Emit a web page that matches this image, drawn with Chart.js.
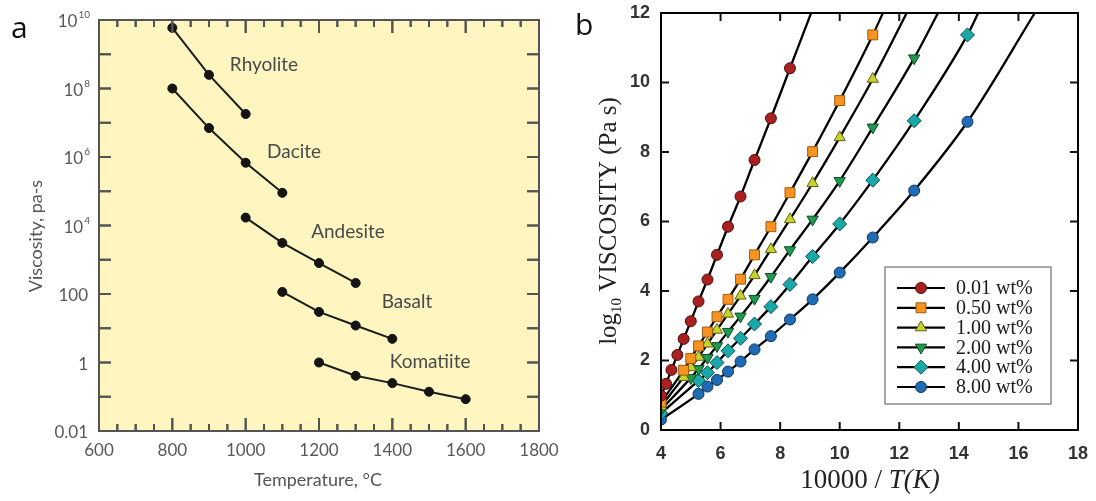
<!DOCTYPE html>
<html>
<head>
<meta charset="utf-8">
<script src="https://cdn.jsdelivr.net/npm/chart.js@4.4.0/dist/chart.umd.min.js"></script>
<style>
  html, body { margin: 0; padding: 0; background: #fff; width: 1096px; height: 501px; overflow: hidden; }
  #wrapA { position: absolute; left: 0; top: 0; width: 560px; height: 501px; }
  #wrapB { position: absolute; left: 560px; top: 0; width: 536px; height: 501px; }
</style>
</head>
<body>
<div id="wrapA"><canvas id="chartA" width="560" height="501"></canvas></div>
<div id="wrapB"><canvas id="chartB" width="536" height="501"></canvas></div>
<script>
// ---------------- Panel a: magma viscosity (Pa s) against temperature (°C) ----------------
const rockNames = ['Rhyolite', 'Dacite', 'Andesite', 'Basalt', 'Komatiite'];
const rhyoliteTemp = [800, 900, 1000];
const rhyoliteVisc = [5.9e9, 2.5e8, 1.8e7];
const daciteTemp = [800, 900, 1000, 1100];
const daciteVisc = [1.0e8, 7.0e6, 6.8e5, 9.0e4];
const andesiteTemp = [1000, 1100, 1200, 1300];
const andesiteVisc = [1.7e4, 3.1e3, 8.0e2, 2.1e2];
const basaltTemp = [1100, 1200, 1300, 1400];
const basaltVisc = [115, 30, 12, 4.9];
const komatiiteTemp = [1200, 1300, 1400, 1500, 1600];
const komatiiteVisc = [1.0, 0.41, 0.25, 0.14, 0.085];
const tempTicks = [600, 800, 1000, 1200, 1400, 1600, 1800];
const viscTicks = [1e10, 1e8, 1e6, 1e4, 100, 1, 0.01];

// ---------------- Panel b: log10 viscosity against 10000/T for several water contents ----------------
const waterLabels = ['0.01 wt%', '0.50 wt%', '1.00 wt%', '2.00 wt%', '4.00 wt%', '8.00 wt%'];
const invT_001 = [4.00, 4.17, 4.35, 4.55, 4.76, 5.00, 5.26, 5.56, 5.88, 6.25, 6.67, 7.14, 7.69, 8.33];
const logEta_001 = [0.99, 1.33, 1.73, 2.16, 2.62, 3.13, 3.70, 4.33, 5.04, 5.85, 6.72, 7.77, 8.97, 10.41];
const invT_050 = [4.00, 4.76, 5.00, 5.26, 5.56, 5.88, 6.25, 6.67, 7.14, 7.69, 8.33, 9.09, 10.00, 11.11];
const logEta_050 = [0.80, 1.72, 2.06, 2.42, 2.82, 3.26, 3.76, 4.34, 5.04, 5.85, 6.83, 8.01, 9.48, 11.37];
const invT_100 = [4.00, 4.76, 5.00, 5.26, 5.56, 5.88, 6.25, 6.67, 7.14, 7.69, 8.33, 9.09, 10.00, 11.11];
const logEta_100 = [0.68, 1.52, 1.80, 2.10, 2.48, 2.88, 3.34, 3.86, 4.45, 5.20, 6.06, 7.10, 8.42, 10.10];
const invT_200 = [4.00, 5.00, 5.26, 5.56, 5.88, 6.25, 6.67, 7.14, 7.69, 8.33, 9.09, 10.00, 11.11, 12.50];
const logEta_200 = [0.58, 1.50, 1.76, 2.08, 2.42, 2.83, 3.27, 3.78, 4.41, 5.18, 6.06, 7.17, 8.71, 10.70];
const invT_400 = [4.00, 5.26, 5.56, 5.88, 6.25, 6.67, 7.14, 7.69, 8.33, 9.09, 10.00, 11.11, 12.50, 14.29];
const logEta_400 = [0.48, 1.42, 1.65, 1.94, 2.28, 2.64, 3.05, 3.55, 4.19, 4.99, 5.93, 7.19, 8.90, 11.37];
const invT_800 = [4.00, 5.26, 5.56, 5.88, 6.25, 6.67, 7.14, 7.69, 8.33, 9.09, 10.00, 11.11, 12.50, 14.29];
const logEta_800 = [0.30, 1.04, 1.25, 1.44, 1.68, 1.97, 2.32, 2.70, 3.18, 3.76, 4.53, 5.54, 6.89, 8.87];
// 10000/T at which each fitted curve leaves the top of the frame (log10 viscosity = 12)
const curveTopInvT = [9.04, 11.45, 12.25, 13.30, 14.65, 16.55];
const curveTopLogEta = 12;
const invTTicks = [4, 6, 8, 10, 12, 14, 16, 18];
const logEtaTicks = [0, 2, 4, 6, 8, 10, 12];

// ---------------- shared helpers ----------------
const pts = (xs, ys) => xs.map((x, i) => ({ x: x, y: ys[i] }));

// short tick marks pointing into the plot frame on all four sides
function inwardTicks(ctx, area, xs, ys, xScale, yScale, lenFor, color, w) {
  ctx.save();
  ctx.globalAlpha = 1;
  ctx.globalCompositeOperation = 'source-over';
  ctx.fillStyle = color;
  xs.forEach(v => {
    const px = xScale.getPixelForValue(v);
    const L = lenFor('x', v);
    ctx.fillRect(px - w / 2, area.bottom - L, w, L);
    ctx.fillRect(px - w / 2, area.top, w, L);
  });
  ys.forEach(v => {
    const py = yScale.getPixelForValue(v);
    const L = lenFor('y', v);
    ctx.fillRect(area.left, py - w / 2, L, w);
    ctx.fillRect(area.right - L, py - w / 2, L, w);
  });
  ctx.restore();
}

// drop Chart.js' extra room for overhanging tick labels so the frame sits exactly where set
const fixX = h => s => { s.height = h; s.paddingLeft = 0; s.paddingRight = 0; };
const fixY = w => s => { s.width = w; s.paddingTop = 0; s.paddingBottom = 0; };

// ---------------- Panel a chart ----------------
const rockTemps = [rhyoliteTemp, daciteTemp, andesiteTemp, basaltTemp, komatiiteTemp];
const rockViscs = [rhyoliteVisc, daciteVisc, andesiteVisc, basaltVisc, komatiiteVisc];
// label anchors (temperature, viscosity) for the rock names
const rockLabelAt = [[1050, 4.9e8], [1132, 1.4e6], [1279, 6.5e3], [1440, 59], [1503, 1.03]];

function panelAFrame(chart) {
  const { ctx, chartArea: a, scales } = chart;
  const gray = '#545454';
  const minorT = [];
  for (let t = 650; t < 1800; t += 50) minorT.push(t);
  const decades = [];
  for (let e = -1; e <= 9; e++) decades.push(Math.pow(10, e));
  ctx.save();
  ctx.strokeStyle = gray;
  ctx.lineWidth = 2;
  ctx.strokeRect(a.left, a.top, a.right - a.left, a.bottom - a.top);
  ctx.restore();
  inwardTicks(ctx, a, minorT, decades, scales.x, scales.y,
    (axis, v) => axis === 'x' ? (v % 200 === 0 ? 13 : 7) : 12, gray, 2);
}

const panelA = {
  id: 'panelA',
  beforeDraw(chart) {
    const { ctx, chartArea: a } = chart;
    ctx.save();
    ctx.fillStyle = '#fef5c1';
    ctx.fillRect(a.left, a.top, a.right - a.left, a.bottom - a.top);
    ctx.restore();
  },
  afterDatasetsDraw(chart) {
    panelAFrame(chart);
  },
  afterDraw(chart) {
    const { ctx, chartArea: a, scales } = chart;
    const xS = scales.x, yS = scales.y;

    // viscosity tick labels with superscript exponents
    ctx.save();
    ctx.fillStyle = '#585858';
    ctx.textBaseline = 'middle';
    ctx.textAlign = 'right';
    const right = a.left - 11;
    viscTicks.forEach(v => {
      const py = yS.getPixelForValue(v) + 2;
      const exp = Math.round(Math.log10(v));
      if (exp >= 4) {
        ctx.font = '10px Lato';
        const ew = ctx.measureText(String(exp)).width;
        ctx.fillText(String(exp), right + 2, py - 7);
        ctx.font = '17px Lato';
        ctx.fillText('10', right - ew + 1, py);
      } else {
        ctx.font = '17px Lato';
        ctx.fillText(String(v), right, py);
      }
    });
    ctx.restore();

    // axis titles
    ctx.save();
    ctx.fillStyle = '#555';
    ctx.font = '18px Lato';
    ctx.textAlign = 'center';
    ctx.textBaseline = 'middle';
    ctx.fillText('Temperature, °C', (a.left + a.right) / 2 - 1, 480);
    ctx.translate(36, 236);
    ctx.rotate(-Math.PI / 2);
    ctx.fillText('Viscosity, pa-s', 0, 0);
    ctx.restore();

    // rock names
    ctx.save();
    ctx.fillStyle = '#4a4a4a';
    ctx.font = '19px Lato';
    ctx.textAlign = 'center';
    ctx.textBaseline = 'middle';
    rockNames.forEach((n, i) => {
      ctx.fillText(n, xS.getPixelForValue(rockLabelAt[i][0]), yS.getPixelForValue(rockLabelAt[i][1]));
    });
    ctx.restore();

    // panel letter
    ctx.save();
    ctx.fillStyle = '#111';
    ctx.font = '30px "Open Sans"';
    ctx.textBaseline = 'alphabetic';
    ctx.fillText('a', 11, 38);
    ctx.restore();

    panelAFrame(chart);
  }
};

new Chart(document.getElementById('chartA'), {
  type: 'line',
  data: {
    datasets: rockNames.map((n, i) => ({
      label: n,
      data: pts(rockTemps[i], rockViscs[i]),
      borderColor: '#1c1c1c',
      borderWidth: 2,
      pointRadius: 4.5,
      pointBackgroundColor: '#141414',
      pointBorderColor: '#141414',
      pointBorderWidth: 1,
      tension: 0,
      fill: false
    }))
  },
  options: {
    responsive: false,
    animation: false,
    events: [],
    layout: { padding: { left: 0, top: 20, right: 21, bottom: 0 } },
    plugins: { legend: { display: false }, tooltip: { enabled: false } },
    scales: {
      x: {
        type: 'linear', min: 600, max: 1800,
        grid: { display: false, drawTicks: false }, border: { display: false },
        afterBuildTicks: s => { s.ticks = tempTicks.map(v => ({ value: v })); },
        ticks: {
          font: { family: 'Lato', size: 17 }, color: '#585858', padding: 9, maxRotation: 0, autoSkip: false,
          callback: v => String(v)
        },
        afterFit: fixX(70)
      },
      y: {
        type: 'logarithmic', min: 0.01, max: 1e10,
        grid: { display: false, drawTicks: false }, border: { display: false },
        ticks: { display: false },
        afterFit: fixY(99)
      }
    }
  },
  plugins: [panelA]
});

// ---------------- Panel b chart ----------------
const seriesX = [invT_001, invT_050, invT_100, invT_200, invT_400, invT_800];
const seriesY = [logEta_001, logEta_050, logEta_100, logEta_200, logEta_400, logEta_800];
const markerStyles = [
  { pointStyle: 'circle',   radius: 5.5, rotation: 0,   fill: '#a8201f', edge: '#4d0e0e' },
  { pointStyle: 'rect',     radius: 7,   rotation: 0,   fill: '#f7931e', edge: '#9a5c12' },
  { pointStyle: 'triangle', radius: 6.5, rotation: 0,   fill: '#c8d22f', edge: '#5f6414' },
  { pointStyle: 'triangle', radius: 6.5, rotation: 180, fill: '#1e9a4e', edge: '#0c4a25' },
  { pointStyle: 'rectRot',  radius: 7,   rotation: 0,   fill: '#19a7a8', edge: '#0b5253' },
  { pointStyle: 'circle',   radius: 5.5, rotation: 0,   fill: '#1f6cb4', edge: '#0d3560' }
];

const curveSets = waterLabels.map((lab, i) => ({
  label: lab + ' curve',
  data: pts(seriesX[i], seriesY[i]).concat([{ x: curveTopInvT[i], y: curveTopLogEta }]),
  borderColor: '#000',
  borderWidth: 2.3,
  pointRadius: 0,
  cubicInterpolationMode: 'monotone',
  fill: false,
  order: 2
}));
const markerSets = waterLabels.map((lab, i) => ({
  label: lab,
  data: pts(seriesX[i], seriesY[i]),
  showLine: false,
  pointStyle: markerStyles[i].pointStyle,
  pointRadius: markerStyles[i].radius,
  pointRotation: markerStyles[i].rotation,
  pointBackgroundColor: markerStyles[i].fill,
  pointBorderColor: markerStyles[i].edge,
  pointBorderWidth: 1,
  order: 1
}));

function drawMarker(ctx, m, x, y) {
  if (Chart.helpers && Chart.helpers.drawPoint) {
    ctx.save();
    ctx.fillStyle = m.fill;
    ctx.strokeStyle = m.edge;
    ctx.lineWidth = 1;
    Chart.helpers.drawPoint(ctx, { pointStyle: m.pointStyle, radius: m.radius, rotation: m.rotation, borderWidth: 1 }, x, y);
    ctx.restore();
  }
}

const panelB = {
  id: 'panelB',
  afterDraw(chart) {
    const { ctx, chartArea: a, scales } = chart;

    // legend box in the lower right corner
    const bw = 166, bh = 137;
    const bx = a.right - 27 - bw, by = a.bottom - 26 - bh;
    ctx.save();
    ctx.fillStyle = '#fff';
    ctx.fillRect(bx, by, bw, bh);
    ctx.strokeStyle = '#8a8a8a';
    ctx.lineWidth = 1.5;
    ctx.strokeRect(bx, by, bw, bh);
    ctx.font = '20px "Liberation Serif"';
    ctx.textBaseline = 'middle';
    waterLabels.forEach((lab, i) => {
      const ry = by + 21 + i * 19.8;
      ctx.strokeStyle = '#000';
      ctx.lineWidth = 2.2;
      ctx.beginPath();
      ctx.moveTo(bx + 12, ry); ctx.lineTo(bx + 60, ry);
      ctx.stroke();
      drawMarker(ctx, markerStyles[i], bx + 36, ry);
      ctx.fillStyle = '#1a1a1a';
      ctx.fillText(lab, bx + 71, ry + 1);
    });
    ctx.restore();

    // axis titles
    ctx.save();
    ctx.fillStyle = '#222';
    ctx.textBaseline = 'alphabetic';
    const f1 = '27px "Liberation Serif"', f2 = 'italic 27px "Liberation Serif"';
    ctx.font = f1; const w1 = ctx.measureText('10000 / ').width;
    ctx.font = f2; const w2 = ctx.measureText('T(K)').width;
    const x0 = 310 - (w1 + w2) / 2;
    ctx.font = f1; ctx.fillText('10000 / ', x0, 488);
    ctx.font = f2; ctx.fillText('T(K)', x0 + w1, 488);

    ctx.translate(48, 221);
    ctx.rotate(-Math.PI / 2);
    const g1 = '25px "Liberation Serif"', g2 = '15px "Liberation Serif"';
    ctx.font = g1; const a1 = ctx.measureText('log').width;
    ctx.font = g2; const a2 = ctx.measureText('10').width;
    ctx.font = g1; const a3 = ctx.measureText(' VISCOSITY (Pa s)').width;
    let sx = -(a1 + a2 + a3) / 2;
    ctx.font = g1; ctx.fillText('log', sx, 8); sx += a1;
    ctx.font = g2; ctx.fillText('10', sx, 13); sx += a2;
    ctx.font = g1; ctx.fillText(' VISCOSITY (Pa s)', sx, 8);
    ctx.restore();

    // panel letter
    ctx.save();
    ctx.fillStyle = '#111';
    ctx.font = '30px "Open Sans"';
    ctx.textBaseline = 'alphabetic';
    ctx.fillText('b', 15, 35);
    ctx.restore();

    // frame and inward ticks
    ctx.save();
    ctx.strokeStyle = '#000';
    ctx.lineWidth = 2;
    ctx.strokeRect(a.left, a.top, a.right - a.left, a.bottom - a.top);
    ctx.restore();
    inwardTicks(ctx, a, invTTicks.slice(1, -1), logEtaTicks.slice(1, -1), scales.x, scales.y, () => 8, '#111', 2);
  }
};

new Chart(document.getElementById('chartB'), {
  type: 'line',
  data: { datasets: markerSets.concat(curveSets) },
  options: {
    responsive: false,
    animation: false,
    events: [],
    layout: { padding: { left: 0, top: 13, right: 18, bottom: 0 } },
    plugins: { legend: { display: false }, tooltip: { enabled: false } },
    scales: {
      x: {
        type: 'linear', min: 4, max: 18,
        grid: { display: false, drawTicks: false }, border: { display: false },
        afterBuildTicks: s => { s.ticks = invTTicks.map(v => ({ value: v })); },
        ticks: { font: { family: 'Liberation Sans', size: 18, weight: 'bold' }, color: '#333', padding: 13, maxRotation: 0, autoSkip: false },
        afterFit: fixX(71)
      },
      y: {
        type: 'linear', min: 0, max: 12,
        grid: { display: false, drawTicks: false }, border: { display: false },
        afterBuildTicks: s => { s.ticks = logEtaTicks.map(v => ({ value: v })); },
        ticks: { font: { family: 'Liberation Sans', size: 18, weight: 'bold' }, color: '#333', padding: 11, autoSkip: false },
        afterFit: fixY(101)
      }
    }
  },
  plugins: [panelB]
});
</script>
</body>
</html>
